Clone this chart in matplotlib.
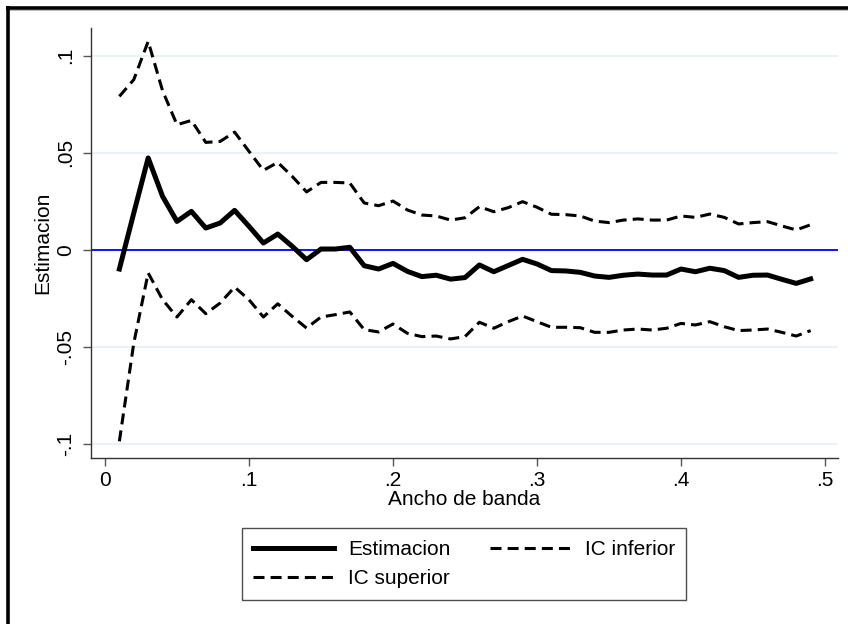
import matplotlib
matplotlib.use("Agg")
import matplotlib.pyplot as plt
from matplotlib.lines import Line2D
import numpy as np

plt.rcParams['font.family'] = ['Liberation Sans', 'DejaVu Sans']

bandwidth = [round(0.01 * i, 2) for i in range(1, 50)]
estimacion = [-0.0098, 0.019, 0.0474, 0.0276, 0.0147, 0.0199, 0.0113, 0.0139, 0.0204, 0.0122,
              0.0036, 0.0082, 0.0019, -0.005, 0.0005, 0.0005, 0.0014, -0.0081, -0.0098,
              -0.0069, -0.011, -0.0137, -0.013, -0.015, -0.0142, -0.0077, -0.0112, -0.008, -0.0048,
              -0.0072, -0.0106, -0.0108, -0.0115, -0.0134, -0.0141, -0.013, -0.0124, -0.0129, -0.0129,
              -0.0098, -0.0112, -0.0094, -0.0106, -0.0141, -0.013, -0.0129, -0.0151, -0.0172, -0.0149]
ic_superior = [0.0791, 0.0877, 0.1074, 0.082, 0.0645, 0.0667, 0.0554, 0.0559, 0.0607, 0.0508,
               0.041, 0.0451, 0.0379, 0.0299, 0.0348, 0.0348, 0.0345, 0.0242, 0.0228,
               0.0252, 0.0206, 0.018, 0.0175, 0.0154, 0.0166, 0.0223, 0.0197, 0.0218, 0.0249,
               0.022, 0.0184, 0.0182, 0.0175, 0.0149, 0.0141, 0.0154, 0.016, 0.0154, 0.0154,
               0.0175, 0.0168, 0.0185, 0.0168, 0.0134, 0.0141, 0.0146, 0.0124, 0.0103, 0.013]
ic_inferior = [-0.0985, -0.048, -0.0118, -0.0256, -0.0345, -0.0256, -0.0328, -0.0273, -0.0191, -0.0256,
               -0.0345, -0.0277, -0.0342, -0.0402, -0.0345, -0.0333, -0.0319, -0.041, -0.0422,
               -0.0381, -0.0429, -0.0446, -0.0443, -0.0458, -0.0446, -0.0372, -0.0403, -0.0369, -0.034,
               -0.0369, -0.0398, -0.0398, -0.04, -0.0424, -0.0424, -0.0412, -0.0407, -0.0412, -0.0403,
               -0.0378, -0.0386, -0.0369, -0.0395, -0.0415, -0.0412, -0.0407, -0.0424, -0.0443, -0.0415]

xticks = [0, 0.1, 0.2, 0.3, 0.4, 0.5]
xticklabels = ["0", ".1", ".2", ".3", ".4", ".5"]
yticks = [-0.1, -0.05, 0, 0.05, 0.1]
yticklabels = ["-.1", "-.05", "0", ".05", ".1"]

FS = 15
fig = plt.figure(figsize=(8.48, 6.24), dpi=100)
ax = fig.add_axes([91/848, 1 - 458/624, (838 - 91)/848, (458 - 28)/624])

for yv in yticks:
    ax.axhline(yv, color='#eaf2f3', lw=1.5, zorder=0)
ax.axhline(0, color='#0000ff', lw=1.3, zorder=1)

l_est, = ax.plot(bandwidth, estimacion, color='black', lw=3.6, solid_joinstyle='round',
                 label='Estimacion', zorder=3)
l_inf, = ax.plot(bandwidth, ic_inferior, color='black', lw=2.2, label='IC inferior', zorder=2)
l_sup, = ax.plot(bandwidth, ic_superior, color='black', lw=2.2, label='IC superior', zorder=2)
for l in (l_inf, l_sup):
    l.set_dashes((3.6, 2.0))

ax.set_xlim(-0.0097, 0.509)
ax.set_ylim(-0.1071, 0.1143)
ax.set_xticks(xticks)
ax.set_xticklabels(xticklabels)
ax.set_yticks(yticks)
ax.set_yticklabels(yticklabels, rotation=90, va='center')

for s in ('top', 'right'):
    ax.spines[s].set_visible(False)
for s in ('left', 'bottom'):
    ax.spines[s].set_color('#333333')
    ax.spines[s].set_linewidth(1.0)
ax.tick_params(axis='both', direction='out', length=6, width=1, color='#555555',
               labelsize=FS, labelcolor='black')
ax.tick_params(axis='x', pad=3.5)
ax.tick_params(axis='y', pad=5.5)

ax.set_xlabel('Ancho de banda', fontsize=FS, labelpad=0)
ax.set_ylabel('Estimacion', fontsize=FS, labelpad=3)

leg = fig.legend([l_est, l_sup, l_inf], ['Estimacion', 'IC superior', 'IC inferior'],
                 ncol=2, loc='center', bbox_to_anchor=(464/848, 1 - 564/624),
                 fontsize=FS, frameon=True, fancybox=False, edgecolor='#222222',
                 handlelength=3.9, handletextpad=0.67, columnspacing=1.87,
                 labelspacing=0.5, borderpad=0.55)
leg.get_frame().set_linewidth(1.0)

# outer frame (top and left edges visible)
fig.add_artist(Line2D([6/848, 1], [1 - 7.5/624, 1 - 7.5/624], transform=fig.transFigure,
                      color='black', lw=2.6, solid_capstyle='butt'))
fig.add_artist(Line2D([6/848, 1], [1 - 10/624, 1 - 10/624], transform=fig.transFigure,
                      color='#bbbbbb', lw=0.7, solid_capstyle='butt'))
fig.add_artist(Line2D([7.5/848, 7.5/848], [0, 1 - 6/624], transform=fig.transFigure,
                      color='black', lw=2.6, solid_capstyle='butt'))

fig.savefig('out.png', dpi=100)
